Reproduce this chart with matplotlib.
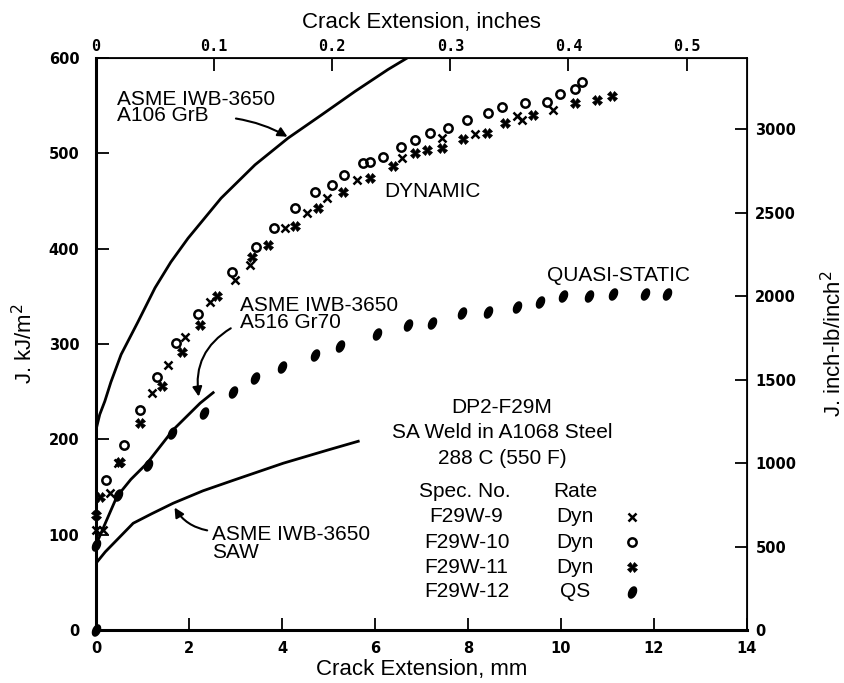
import matplotlib
matplotlib.use("Agg")
import matplotlib.pyplot as plt
from matplotlib.font_manager import FontProperties
import numpy as np

# J-R data (crack extension mm, J kJ/m^2)
f9_da = [0.0, 0.15, 0.3, 0.47, 1.2, 1.55, 1.91, 2.45, 2.99, 3.31, 4.06, 4.54, 4.97, 5.61, 6.58, 7.44, 8.15, 9.05, 9.16, 9.83]
f9_j = [105, 105, 144, 175, 249, 278, 307, 344, 367, 383, 422, 437, 453, 472, 495, 516, 520, 539, 535, 546]

f10_da = [0.22, 0.6, 0.95, 1.31, 1.72, 2.19, 2.92, 3.44, 3.83, 4.28, 4.71, 5.08, 5.33, 5.74, 5.89, 6.17, 6.56, 6.86,
          7.18, 7.57, 7.98, 8.43, 8.73, 9.23, 9.7, 9.98, 10.3, 10.45]
f10_j = [157, 194, 231, 265, 301, 331, 376, 402, 422, 443, 459, 467, 477, 490, 491, 496, 507, 514,
         521, 527, 535, 542, 549, 553, 554, 562, 568, 575]

f11_da = [0.0, 0.09, 0.52, 0.95, 1.42, 1.85, 2.24, 2.6, 3.35, 3.7, 4.28, 4.77, 5.31, 5.89, 6.39, 6.86, 7.12, 7.44,
          7.89, 8.41, 8.8, 9.4, 10.3, 10.77, 11.1]
f11_j = [121, 140, 176, 217, 256, 292, 320, 350, 391, 404, 424, 443, 460, 474, 487, 500, 504, 506,
         515, 521, 532, 540, 553, 556, 560]

f12_da = [0.0, 0.0, 0.47, 1.12, 1.63, 2.32, 2.94, 3.42, 4.0, 4.71, 5.25, 6.04, 6.71, 7.23, 7.87, 8.43, 9.05, 9.55,
          10.04, 10.6, 11.12, 11.8, 12.28]
f12_j = [0, 89, 142, 173, 207, 228, 250, 264, 276, 289, 298, 311, 320, 322, 333, 334, 339, 344,
         350, 350, 353, 352, 353]

# ASME IWB-3650 reference curves
a106_da = [0.0, 0.08, 0.19, 0.32, 0.54, 0.9, 1.27, 1.61, 1.98, 2.69, 3.42, 4.13, 4.84, 5.57, 6.28, 6.69]
a106_j = [210, 226, 240, 260, 289, 323, 359, 386, 411, 453, 488, 516, 540, 565, 588, 600]

a516_da = [0.05, 0.2, 0.45, 0.75, 1.1, 1.66, 2.24, 2.52]
a516_j = [95, 112, 140, 158, 175, 210, 238, 249]

saw_da = [0.0, 0.2, 0.4, 0.8, 1.2, 1.66, 2.3, 2.95, 4.03, 5.0, 5.64]
saw_j = [70, 82, 92, 112, 122, 133, 146, 157, 175, 189, 198]

MM_PER_IN = 25.4
KJ_TO_INLB = 5.71

plt.rcParams['font.family'] = ['Liberation Sans', 'DejaVu Sans']

fig = plt.figure(figsize=(8.45, 6.83), dpi=100)
ax = fig.add_axes([0.1136, 0.0776, 0.7704, 0.8374])

lw = 2.0
ax.plot(a106_da, a106_j, color='black', lw=lw)
ax.plot(a516_da, a516_j, color='black', lw=lw)
ax.plot(saw_da, saw_j, color='black', lw=lw)

# tilted filled oval for the quasi-static specimen
t = np.linspace(0, 2 * np.pi, 40)
a = np.deg2rad(-25)
ex, ey = 0.6 * np.cos(t), np.sin(t)
oval = list(zip(ex * np.cos(a) - ey * np.sin(a), ex * np.sin(a) + ey * np.cos(a)))

x_st = dict(marker='x', ms=6, mew=1.8, color='black')
o_st = dict(marker='o', ms=6, mew=1.8, mfc='none', color='black')
xx_st = dict(marker='X', ms=7, mew=0.5, color='black')
qs_st = dict(marker=oval, ms=8, color='black')

ax.plot(f9_da, f9_j, ls='none', clip_on=False, **x_st)
ax.plot(f10_da, f10_j, ls='none', clip_on=False, **o_st)
ax.plot(f11_da, f11_j, ls='none', clip_on=False, **xx_st)
ax.plot(f12_da, f12_j, ls='none', clip_on=False, **qs_st)

ax.set_xlim(0, 14)
ax.set_ylim(0, 600)
ax.set_xticks(range(0, 15, 2))
ax.set_yticks(range(0, 601, 100))

tickfont = FontProperties(family='DejaVu Sans', weight='bold', size=10.5)
for lab in ax.get_xticklabels() + ax.get_yticklabels():
    lab.set_fontproperties(tickfont)
ax.tick_params(direction='in', length=9, width=1.3)
ax.tick_params(axis='y', pad=12)
ax.tick_params(axis='x', pad=8)
for s in ax.spines.values():
    s.set_linewidth(1.3)
ax.spines['left'].set_linewidth(2.2)
ax.spines['bottom'].set_linewidth(2.2)

top = ax.secondary_xaxis('top', functions=(lambda x: x / MM_PER_IN, lambda x: x * MM_PER_IN))
top.set_xticks([0, 0.1, 0.2, 0.3, 0.4, 0.5])
top.set_xticklabels(['0', '0.1', '0.2', '0.3', '0.4', '0.5'], family='DejaVu Sans Mono', weight='bold', size=11)
top.tick_params(direction='in', length=9, width=1.3, pad=3)
top.set_xlabel('Crack Extension, inches', fontsize=16, labelpad=8)

right = ax.secondary_yaxis('right', functions=(lambda y: y * KJ_TO_INLB, lambda y: y / KJ_TO_INLB))
right.set_yticks(range(0, 3001, 500))
for lab in right.get_yticklabels():
    lab.set_fontproperties(tickfont)
right.tick_params(direction='in', length=9, width=1.3, pad=6)
right.set_ylabel('J. inch-lb/inch$^2$', fontsize=16, labelpad=18)

ax.set_xlabel('Crack Extension, mm', fontsize=16, labelpad=2)
ax.set_ylabel('J. kJ/m$^2$', fontsize=16, labelpad=8)

tf = 15
ax.text(0.45, 567, 'ASME IWB-3650\nA106 GrB', fontsize=tf, va='top', linespacing=0.85)
ax.text(3.1, 350, 'ASME IWB-3650\nA516 Gr70', fontsize=tf, va='top', linespacing=0.85)
ax.text(2.49, 110, 'ASME IWB-3650\nSAW', fontsize=tf, va='top', linespacing=0.9)
ax.text(6.2, 460, 'DYNAMIC', fontsize=tf, va='center')
ax.text(9.7, 372, 'QUASI-STATIC', fontsize=tf, va='center')

ax.text(8.73, 233, 'DP2-F29M', fontsize=tf, ha='center', va='center')
ax.text(8.73, 207, 'SA Weld in A1068 Steel', fontsize=tf, ha='center', va='center')
ax.text(8.73, 180, '288 C (550 F)', fontsize=tf, ha='center', va='center')
ax.text(7.93, 145, 'Spec. No.', fontsize=tf, ha='center', va='center')
ax.text(10.3, 145, 'Rate', fontsize=tf, ha='center', va='center')

spec_names = ['F29W-9', 'F29W-10', 'F29W-11', 'F29W-12']
spec_rates = ['Dyn', 'Dyn', 'Dyn', 'QS']
row_j = [119, 92, 66, 40]
for name, rate, yj, st in zip(spec_names, spec_rates, row_j, [x_st, o_st, xx_st, qs_st]):
    ax.text(7.97, yj, name, fontsize=tf, ha='center', va='center')
    ax.text(10.3, yj, rate, fontsize=tf, ha='center', va='center')
    ax.plot([11.53], [yj], ls='none', **st)

arrow = dict(arrowstyle='-|>', color='black', lw=1.5, mutation_scale=14)
ax.annotate('', xy=(4.17, 516), xytext=(2.95, 537),
            arrowprops=dict(connectionstyle='arc3,rad=-0.1', **arrow))
ax.annotate('', xy=(2.22, 242), xytext=(2.95, 318),
            arrowprops=dict(connectionstyle='arc3,rad=0.35', **arrow))
ax.annotate('', xy=(1.66, 131), xytext=(2.45, 104),
            arrowprops=dict(connectionstyle='arc3,rad=-0.25', **arrow))

fig.savefig('out.png', dpi=100)
